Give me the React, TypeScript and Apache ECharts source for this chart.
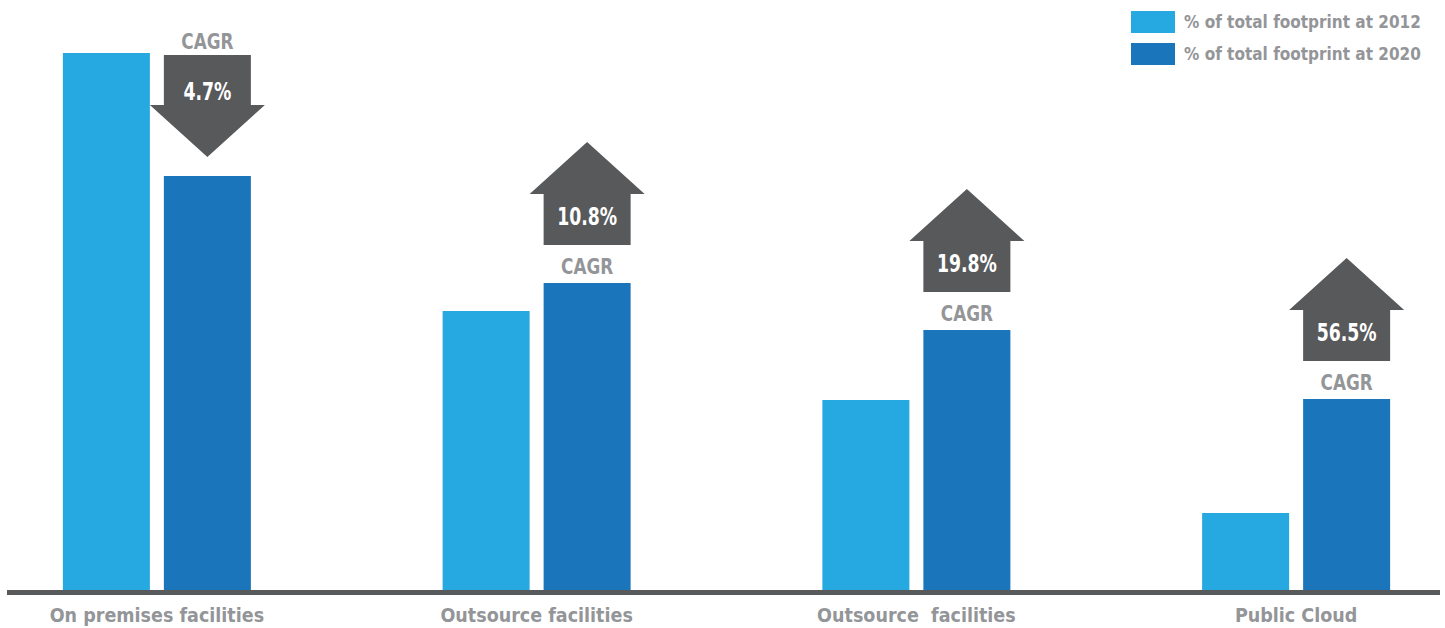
import React, { useEffect, useRef } from "react";
import * as echarts from "echarts";

const categories = [
  "On premises facilities",
  "Outsource facilities",
  "Outsource  facilities",
  "Public Cloud",
];
const share2012 = [53.7, 27.9, 19.0, 7.7];
const share2020 = [41.4, 30.7, 26.0, 19.1];
const cagrLabels = ["4.7%", "10.8%", "19.8%", "56.5%"];
const seriesNames = ["% of total footprint at 2012", "% of total footprint at 2020"];

const FONT = "'Liberation Sans Narrow', 'DejaVu Sans Condensed', 'Roboto Condensed', 'Liberation Sans', sans-serif";
const GRAY_TEXT = "#939598";
const ARROW = "#58595b";
const LIGHT = "#25a9e0";
const DARK = "#1a75bb";
const BAR_W = 87;
const BAR_GAP = 14;
const SHIFT = 33; // chart canvas extends past the page on both sides

export default function App() {
  const ref = useRef<HTMLDivElement>(null);
  useEffect(() => {
    if (!ref.current) return;
    const chart = echarts.init(ref.current, undefined, { renderer: "svg" });
    const offset = (BAR_W + BAR_GAP) / 2;
    chart.setOption({
      animation: false,
      grid: { left: 0, right: 0, top: 50, bottom: 38 },
      legend: {
        orient: "vertical",
        left: 1131 + SHIFT,
        top: 11,
        padding: 0,
        itemWidth: 44,
        itemHeight: 22,
        itemGap: 10,
        icon: "rect",
        textStyle: {
          color: GRAY_TEXT,
          fontSize: 17,
          fontWeight: "bold",
          fontFamily: FONT,
          padding: [0, 0, 0, 4],
        },
        data: seriesNames,
      },
      xAxis: {
        type: "category",
        data: categories,
        axisLine: { show: false },
        axisTick: { show: false },
        axisLabel: {
          color: GRAY_TEXT,
          fontSize: 19.5,
          fontWeight: "bold",
          fontFamily: FONT,
          margin: 15,
          interval: 0,
        },
      },
      yAxis: { type: "value", min: 0, max: 54, show: false },
      series: [
        {
          name: seriesNames[0],
          type: "bar",
          data: share2012,
          barWidth: BAR_W,
          barGap: (BAR_GAP / BAR_W) * 100 + "%",
          itemStyle: { color: LIGHT },
        },
        {
          name: seriesNames[1],
          type: "bar",
          data: share2020,
          barWidth: BAR_W,
          itemStyle: { color: DARK },
        },
        {
          type: "custom",
          z: 5,
          silent: true,
          data: share2020.map((v, i) => [i, v, share2012[i]]),
          renderItem: (params: any, api: any) => {
            const i = api.value(0);
            const p = api.coord([i, api.value(1)]);
            const cx = p[0] + offset;
            const ty = p[1];
            const down = api.value(1) < api.value(2);
            const hr = 43.5;
            const ht = 57.5;
            let points: number[][];
            let valY: number;
            let cagrY: number;
            if (down) {
              const top = ty - 121;
              const base = ty - 71;
              const tip = ty - 19;
              points = [
                [cx - hr, top],
                [cx + hr, top],
                [cx + hr, base],
                [cx + ht, base],
                [cx, tip],
                [cx - ht, base],
                [cx - hr, base],
              ];
              valY = ty - 84;
              cagrY = ty - 135;
            } else {
              const bottom = ty - 38;
              const base = ty - 89;
              const tip = ty - 141;
              points = [
                [cx - hr, bottom],
                [cx + hr, bottom],
                [cx + hr, base],
                [cx + ht, base],
                [cx, tip],
                [cx - ht, base],
                [cx - hr, base],
              ];
              valY = ty - 66;
              cagrY = ty - 17;
            }
            return {
              type: "group",
              children: [
                { type: "polygon", shape: { points }, style: { fill: ARROW } },
                {
                  type: "text",
                  x: cx,
                  y: valY,
                  scaleX: 0.8,
                  style: {
                    text: cagrLabels[i],
                    fill: "#ffffff",
                    fontSize: 24,
                    fontWeight: "bold",
                    fontFamily: FONT,
                    align: "center",
                    verticalAlign: "middle",
                  },
                },
                {
                  type: "text",
                  x: cx,
                  y: cagrY,
                  scaleX: 0.85,
                  style: {
                    text: "CAGR",
                    fill: GRAY_TEXT,
                    fontSize: 22,
                    fontWeight: "bold",
                    fontFamily: FONT,
                    align: "center",
                    verticalAlign: "middle",
                  },
                },
              ],
            };
          },
        },
      ],
      graphic: [
        {
          type: "rect",
          left: 7 + SHIFT,
          top: 590,
          shape: { width: 1433, height: 5 },
          style: { fill: ARROW },
          z: 10,
        },
      ],
    });
    return () => chart.dispose();
  }, []);
  return (
    <div
      style={{
        position: "absolute",
        left: 0,
        top: 0,
        width: 1445,
        height: 628,
        overflow: "hidden",
        background: "#ffffff",
      }}
    >
      <div
        ref={ref}
        style={{ position: "absolute", left: -SHIFT, top: 0, width: 1445 + SHIFT + 41, height: 628 }}
      />
    </div>
  );
}
